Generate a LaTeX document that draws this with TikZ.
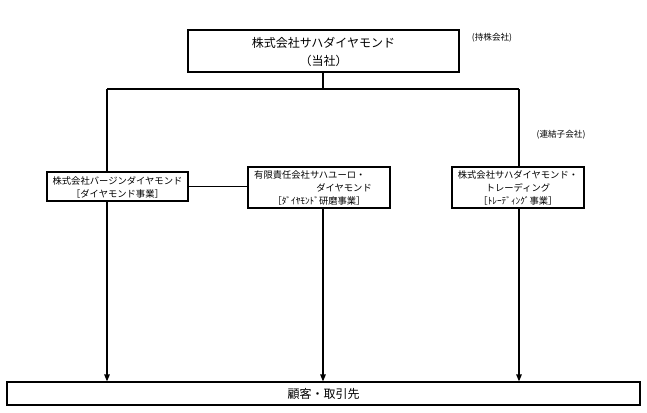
\documentclass[tikz,border=0pt]{standalone}
\usepackage{fontspec}
\setmainfont{Noto Sans CJK JP}
\usetikzlibrary{arrows.meta}
\begin{document}
\begin{tikzpicture}[x=1pt,y=-1pt,
  box/.style={draw, line width=1.2pt, inner sep=0pt},
  txt/.style={inner sep=0pt, font=\fontsize{9.3}{11}\selectfont},
  bigtxt/.style={inner sep=0pt, font=\fontsize{12}{14}\selectfont},
  smalltxt/.style={inner sep=0pt, font=\fontsize{8.6}{10}\selectfont},
  conn/.style={line width=1.2pt},
  arr/.style={line width=1.2pt, -{Triangle[length=7pt,width=5.5pt]}}]
\useasboundingbox[fill=white] (0,0) rectangle (647,412);
% boxes
\node[box, line width=1.8pt, minimum width=271pt, minimum height=42pt] (top) at (323.5,51) {};
\node[box, minimum width=141pt, minimum height=29pt] (lbox) at (117.5,186.5) {};
\node[box, minimum width=142pt, minimum height=41pt] (mbox) at (319,187.5) {};
\node[box, minimum width=132pt, minimum height=41pt] (rbox) at (518,187.5) {};
\node[box, minimum width=633pt, minimum height=23pt] (bot) at (323.5,393.5) {};
% texts
\node[bigtxt] (t1) at (323.5,43) {株式会社サハダイヤモンド};
\node[bigtxt] (t2) at (323.5,61) {（当社）};
\node[smalltxt] (hold) at (492,38) {(持株会社)};
\node[smalltxt] (cons) at (561,135) {(連結子会社)};
\node[txt] (l1) at (117.5,180.5) {株式会社バージンダイヤモンド};
\node[txt] (l2) at (117.5,193.5) {［ダイヤモンド事業］};
\node[txt, anchor=west] (m1) at (254,175) {有限責任会社サハユーロ・};
\node[txt, anchor=east] (m2) at (372,188) {ダイヤモンド};
\node[txt] (m3) at (319,201) {［ﾀﾞｲﾔﾓﾝﾄﾞ研磨事業］};
\node[txt] (r1) at (518,175) {株式会社サハダイヤモンド・};
\node[txt] (r2) at (518,188) {トレーディング};
\node[txt] (r3) at (518,201) {［ﾄﾚｰﾃﾞｨﾝｸﾞ事業］};
\node[bigtxt] (b1) at (323.5,393.5) {顧客・取引先};
% connectors
\coordinate (j) at (323,89);
\coordinate (jl) at (107,89);
\coordinate (jr) at (519,89);
\draw[conn] (top.south -| j) -- (j);
\draw[conn] (jl) -- (jr);
\draw[conn] (jl) -- (jl |- lbox.north);
\draw[conn] (jr) -- (jr |- rbox.north);
\draw[conn] (lbox.east) -- (mbox.west |- lbox.east);
\draw[arr] (jl |- lbox.south) -- (jl |- bot.north);
\draw[arr] (j |- mbox.south) -- (j |- bot.north);
\draw[arr] (jr |- rbox.south) -- (jr |- bot.north);
\end{tikzpicture}
\end{document}
